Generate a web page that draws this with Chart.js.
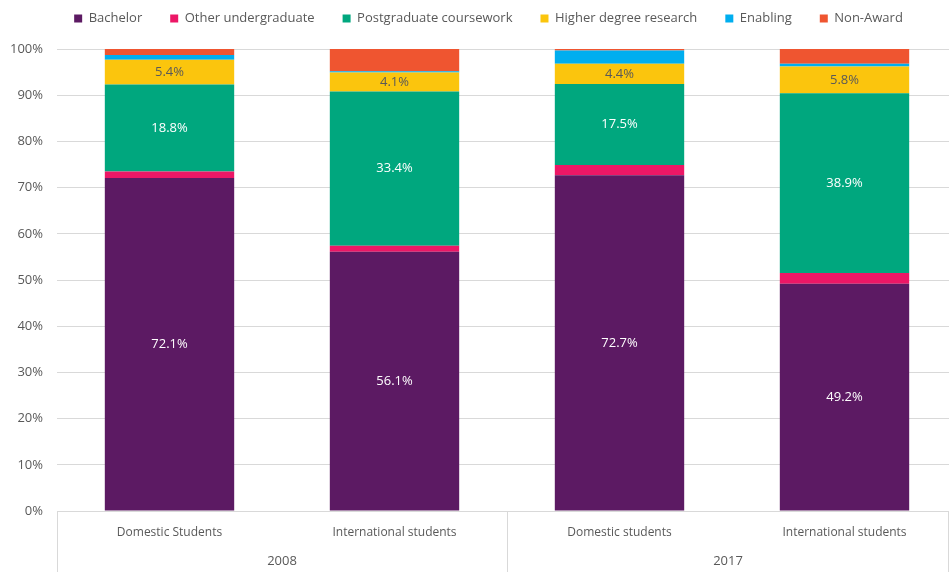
<!DOCTYPE html>
<html>
<head>
<meta charset="utf-8">
<script src="https://cdn.jsdelivr.net/npm/chart.js@4"></script>
<style>
  html, body { margin: 0; padding: 0; background: #fff; overflow: hidden; }
  #wrap { width: 957px; height: 572px; }
</style>
</head>
<body>
<div id="wrap"><canvas id="chart"></canvas></div>
<script>
const categories = ["Domestic Students", "International students", "Domestic students", "International students"];
const years = ["2008", "2017"];
const yTicks = [0, 10, 20, 30, 40, 50, 60, 70, 80, 90, 100];

const bachelor = [72.1, 56.1, 72.7, 49.2];
const otherUndergrad = [1.4, 1.3, 2.2, 2.3];
const postgradCoursework = [18.8, 33.4, 17.5, 38.9];
const higherDegreeResearch = [5.4, 4.1, 4.4, 5.8];
const enabling = [1.0, 0.3, 2.9, 0.6];
const nonAward = [1.3, 4.8, 0.3, 3.2];

const FONT = "'Open Sans', sans-serif";
const GREY = "#595959";
const LINE = "#d9d9d9";

// labels on the big segments only
const labelColours = { 0: "#ffffff", 2: "#ffffff", 3: GREY };
const segmentLabels = {
  id: "segmentLabels",
  afterDatasetsDraw(chart) {
    const ctx = chart.ctx;
    ctx.save();
    ctx.font = "13px " + FONT;
    ctx.textAlign = "center";
    ctx.textBaseline = "middle";
    Object.keys(labelColours).forEach(i => {
      const meta = chart.getDatasetMeta(+i);
      ctx.fillStyle = labelColours[i];
      meta.data.forEach((bar, j) => {
        const p = bar.getCenterPoint();
        ctx.fillText(chart.data.datasets[i].data[j].toFixed(1) + "%", p.x, p.y);
      });
    });
    ctx.restore();
  }
};

// second level of the category axis (years) + separators
const yearAxis = {
  id: "yearAxis",
  afterDraw(chart) {
    const ctx = chart.ctx;
    const x = chart.scales.x;
    const bottom = chart.height;
    const mid = (x.getPixelForTick(1) + x.getPixelForTick(2)) / 2;
    const edges = [chart.chartArea.left, mid, 948];
    ctx.save();
    ctx.strokeStyle = LINE;
    ctx.lineWidth = 1;
    edges.forEach(px => {
      ctx.beginPath();
      ctx.moveTo(Math.round(px) + 0.5, x.top);
      ctx.lineTo(Math.round(px) + 0.5, bottom);
      ctx.stroke();
    });
    ctx.fillStyle = GREY;
    ctx.font = "13px " + FONT;
    ctx.textAlign = "center";
    ctx.textBaseline = "middle";
    ctx.fillText(years[0], (edges[0] + edges[1]) / 2, 561);
    ctx.fillText(years[1], (edges[1] + 949) / 2, 561);
    ctx.restore();
  }
};

// fixed legend height so the plot starts where the reference does,
// and nudge it right a little like the original
const legendTweak = {
  id: "legendTweak",
  beforeInit(chart) {
    const legend = chart.legend;
    const fit = legend.fit;
    legend.fit = function () {
      fit.bind(legend)();
      this.height = 65;
    };
    const draw = legend.draw;
    legend.draw = function () {
      const ctx = chart.ctx;
      ctx.save();
      ctx.translate(10, 0);
      draw.bind(legend)();
      ctx.restore();
    };
  }
};

function ds(label, data, colour) {
  return { label, data, backgroundColor: colour, borderWidth: 0 };
}

new Chart(document.getElementById("chart"), {
  type: "bar",
  data: {
    labels: categories,
    datasets: [
      ds("Bachelor", bachelor, "#5c1a63"),
      ds("Other undergraduate", otherUndergrad, "#ec1766"),
      ds("Postgraduate coursework", postgradCoursework, "#00a77e"),
      ds("Higher degree research", higherDegreeResearch, "#fbc50d"),
      ds("Enabling", enabling, "#00aeef"),
      ds("Non-Award", nonAward, "#ef5530")
    ]
  },
  options: {
    responsive: true,
    maintainAspectRatio: false,
    animation: false,
    datasets: { bar: { categoryPercentage: 1, barPercentage: 0.575 } },
    layout: { padding: { top: -16, right: 0, left: 0, bottom: 0 } },
    plugins: {
      tooltip: { enabled: false },
      legend: {
        position: "top",
        labels: {
          boxWidth: 8,
          boxHeight: 8,
          padding: 28,
          color: GREY,
          font: { family: FONT, size: 13 }
        }
      }
    },
    scales: {
      x: {
        stacked: true,
        afterFit(scale) { scale.height = 61; },
        grid: { display: false },
        border: { display: true, color: LINE },
        ticks: { color: GREY, padding: 6, font: { family: FONT, size: 12 }, maxRotation: 0 }
      },
      y: {
        stacked: true,
        min: 0,
        max: 100,
        afterFit(scale) { scale.width = 57; },
        afterBuildTicks(scale) { scale.ticks = yTicks.map(v => ({ value: v })); },
        grid: { color: LINE, drawTicks: false },
        border: { display: false },
        ticks: {
          color: GREY,
          padding: 14,
          font: { family: FONT, size: 13 },
          callback: v => v + "%"
        }
      }
    }
  },
  plugins: [segmentLabels, yearAxis, legendTweak]
});
</script>
</body>
</html>
